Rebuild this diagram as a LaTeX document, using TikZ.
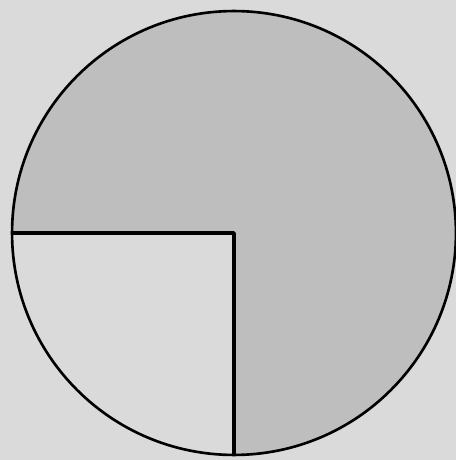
\documentclass[tikz,border=0pt]{standalone}
\usepackage{tikz}
\definecolor{paper}{RGB}{218,218,218}
\definecolor{pencil}{RGB}{190,190,190}
\begin{document}
\begin{tikzpicture}[x=0.02cm,y=0.02cm]
  \tikzset{rim/.style = {draw=black,line width=1.5pt}}
  \tikzset{edge/.style = {-,draw=black,line width=2pt}}
  \fill[paper] (0,0) rectangle (456,460);
  \useasboundingbox (0,0) rectangle (456,460);
  % points
  \coordinate (o) at (234,227);
  \coordinate (w) at (11,227);
  \coordinate (s) at (234,5);
  % shaded part
  \fill[pencil] (o) -- (s) arc[start angle=-90,end angle=180,radius=4.44cm] -- cycle;
  \draw[rim] (o) circle[radius=4.44cm];
  %edges
  \draw[edge,line join=round] (w) -- (o) -- (s);
\end{tikzpicture}
\end{document}
